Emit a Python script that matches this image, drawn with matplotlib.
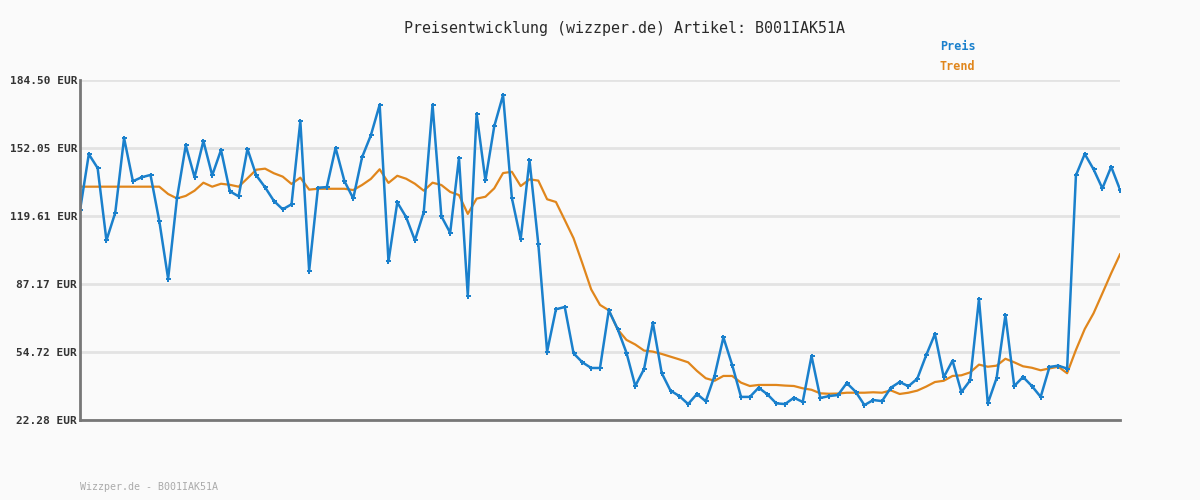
import matplotlib
matplotlib.use("Agg")
import matplotlib.pyplot as plt

# Preis (EUR), one value per observation
preis = [
    122.3, 149.1, 142.5, 108.0, 121.2, 156.8, 136.2, 138.1, 139.2, 117.1,
    89.7, 128.0, 153.3, 138.1, 155.4, 139.0, 151.1, 131.4, 129.0, 151.6,
    139.0, 133.3, 126.8, 122.8, 125.2, 164.9, 93.5, 133.1, 133.4, 152.1,
    136.3, 128.0, 147.6, 158.1, 172.7, 98.0, 126.1, 119.1, 108.0, 121.4,
    172.7, 119.5, 111.6, 147.3, 81.6, 168.4, 136.6, 162.4, 177.3, 128.2,
    108.5, 146.3, 106.3, 54.9, 75.1, 76.2, 54.1, 49.8, 47.1, 47.1,
    74.6, 65.7, 54.4, 38.5, 46.6, 68.6, 44.7, 36.3, 33.7, 29.9,
    34.7, 31.2, 43.4, 61.7, 48.5, 33.3, 33.3, 37.7, 34.5, 30.2,
    29.9, 32.9, 30.9, 52.8, 32.8, 33.7, 34.2, 39.9, 35.8, 29.4,
    31.8, 31.3, 37.7, 40.4, 38.4, 42.0, 53.1, 63.3, 42.7, 50.6,
    35.6, 41.2, 80.0, 30.2, 42.3, 72.4, 38.5, 42.8, 38.5, 33.3,
    47.6, 48.2, 46.8, 139.0, 149.2, 141.9, 132.8, 143.1, 132.2,
]

# Trend (EUR)
trend = [
    133.6, 133.6, 133.6, 133.6, 133.6, 133.6, 133.6, 133.6, 133.6, 133.6,
    130.1, 128.0, 129.2, 131.7, 135.5, 133.6, 135.0, 134.5, 133.6, 137.6,
    141.7, 142.2, 140.0, 138.4, 134.9, 137.9, 132.2, 132.6, 132.6, 132.6,
    132.6, 132.0, 134.4, 137.3, 141.9, 135.4, 138.8, 137.4, 135.0, 131.7,
    135.5, 134.4, 131.1, 129.6, 120.6, 127.9, 128.8, 132.8, 140.1, 140.7,
    133.9, 137.1, 136.5, 127.6, 126.3, 117.7, 109.0, 97.0, 84.6, 77.2,
    74.6, 65.5, 60.5, 58.3, 55.4, 54.9, 53.8, 52.5, 51.2, 49.8,
    45.7, 42.2, 41.0, 43.3, 43.3, 40.1, 38.5, 39.0, 39.0, 39.0,
    38.7, 38.5, 37.4, 36.7, 35.0, 34.8, 34.9, 35.3, 35.3, 35.3,
    35.5, 35.3, 36.4, 34.7, 35.3, 36.3, 38.2, 40.4, 41.0, 43.3,
    43.6, 45.0, 48.7, 47.7, 48.2, 51.5, 49.8, 47.9, 47.2, 46.0,
    46.9, 47.7, 44.6, 55.7, 65.7, 73.2, 82.7, 92.3, 101.3,
]

y_ticks = [22.28, 54.72, 87.17, 119.61, 152.05, 184.50]
artikel = "B001IAK51A"

bg = "#fafafa"
blue = "#1a80cc"
orange = "#e0861c"

fig = plt.figure(figsize=(12, 5), dpi=100, facecolor=bg)
ax = fig.add_axes([80 / 1200, 80 / 500, 1040 / 1200, 340 / 500])
ax.set_facecolor(bg)

x = list(range(len(preis)))
ax.plot(x, trend, color=orange, lw=1.6, zorder=3)
ax.plot(x, preis, color=blue, lw=1.8, marker="P", markersize=3.6,
        markeredgewidth=0, zorder=4)

ax.set_xlim(0, len(preis) - 1)
ax.set_ylim(y_ticks[0], y_ticks[-1])
ax.set_xticks([])
ax.set_yticks(y_ticks)
ax.set_yticklabels([f"{v:.2f} EUR" for v in y_ticks],
                   fontfamily="DejaVu Sans Mono", fontweight="bold",
                   fontsize=8, color="#333333")
ax.tick_params(axis="y", length=0, pad=2)
ax.grid(axis="y", color="#e3e3e3", lw=2, zorder=0)

for side in ["top", "right"]:
    ax.spines[side].set_visible(False)
for side in ["left", "bottom"]:
    ax.spines[side].set_color("#777777")
    ax.spines[side].set_linewidth(2)
    ax.spines[side].set_zorder(5)

fig.text(624 / 1200, 1 - 28 / 500,
         f"Preisentwicklung (wizzper.de) Artikel: {artikel}",
         ha="center", va="center", fontfamily="DejaVu Sans Mono",
         fontsize=10.8, color="#2a2a2a")
fig.text(940 / 1200, 1 - 47 / 500, "Preis", ha="left", va="center",
         fontfamily="DejaVu Sans Mono", fontweight="bold", fontsize=8.5,
         color=blue)
fig.text(940 / 1200, 1 - 67 / 500, "Trend", ha="left", va="center",
         fontfamily="DejaVu Sans Mono", fontweight="bold", fontsize=8.5,
         color=orange)
fig.text(80 / 1200, 1 - 487 / 500, f"Wizzper.de - {artikel}",
         ha="left", va="center", fontfamily="DejaVu Sans Mono",
         fontsize=7.2, color="#aaaaaa")

fig.savefig("out.png", dpi=100, facecolor=bg)
